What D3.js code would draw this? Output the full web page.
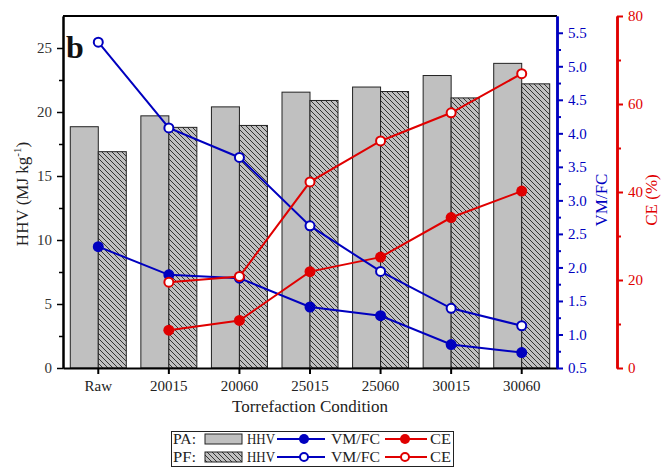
<!DOCTYPE html>
<html>
<head>
<meta charset="utf-8">
<script src="https://cdn.jsdelivr.net/npm/d3@7"></script>
<style>
  body { margin: 0; background: #fff; }
  svg text { font-family: "Liberation Serif", "Times New Roman", serif; }
</style>
</head>
<body>
<div id="chart"></div>
<script>
// categories + series
var conditions = ["Raw", "20015", "20060", "25015", "25060", "30015", "30060"];
var hhvPA = [18.85, 19.7, 20.4, 21.55, 21.95, 22.85, 23.8];
var hhvPF = [16.9, 18.8, 18.95, 20.9, 21.6, 21.1, 22.2];
var vmfcPA = [2.31, 1.89, 1.84, 1.41, 1.28, 0.85, 0.73];
var vmfcPF = [5.36, 4.08, 3.64, 2.62, 1.94, 1.39, 1.13];
// no CE for raw
var cePA = [null, 8.6, 10.8, 21.9, 25.2, 34.2, 40.2];
var cePF = [null, 19.5, 20.8, 42.3, 51.6, 58.0, 66.9];
var hhvTicks = [0, 5, 10, 15, 20, 25];
var vmfcTicks = [0.5, 1.0, 1.5, 2.0, 2.5, 3.0, 3.5, 4.0, 4.5, 5.0, 5.5];
var ceTicks = [0, 20, 40, 60, 80];

var W = 662, H = 467;
var pL = 63, pR = 557, pT = 16, pB = 368;   // plot box
var blue = "#0000bf", red = "#e00000";

var svg = d3.select("#chart").append("svg")
    .attr("width", W).attr("height", H);

var defs = svg.append("defs");
var pat = defs.append("pattern")
    .attr("id", "hatch")
    .attr("patternUnits", "userSpaceOnUse")
    .attr("width", 5).attr("height", 5);
pat.append("rect").attr("width", 5).attr("height", 5).attr("fill", "#c0c0c0");
pat.append("path")
    .attr("d", "M0,0 L5,5 M-1,4 L1,6 M4,-1 L6,1")
    .attr("stroke", "#222").attr("stroke-width", 0.9);

var x = d3.scaleBand().domain(conditions).range([pL, pR]);
var yH = d3.scaleLinear().domain([0, 27.5]).range([pB, pT]);
var yV = d3.scaleLinear().domain([0.5, 5.75]).range([pB, pT]);
var yC = d3.scaleLinear().domain([0, 80]).range([pB, pT]);

var barW = 28;
function cx(d) { return x(d) + x.bandwidth() / 2; }

// bars
svg.append("g").selectAll("rect").data(conditions).enter().append("rect")
    .attr("x", function (d) { return cx(d) - barW; })
    .attr("y", function (d, i) { return yH(hhvPA[i]); })
    .attr("width", barW)
    .attr("height", function (d, i) { return pB - yH(hhvPA[i]); })
    .attr("fill", "#c0c0c0").attr("stroke", "#222").attr("stroke-width", 1);

svg.append("g").selectAll("rect").data(conditions).enter().append("rect")
    .attr("x", function (d) { return cx(d); })
    .attr("y", function (d, i) { return yH(hhvPF[i]); })
    .attr("width", barW)
    .attr("height", function (d, i) { return pB - yH(hhvPF[i]); })
    .attr("fill", "url(#hatch)").attr("stroke", "#222").attr("stroke-width", 1);

// lines + markers
function series(vals, scale, color, filled) {
    var pts = conditions.map(function (c, i) { return [cx(c), vals[i]]; })
        .filter(function (p) { return p[1] !== null; });
    var line = d3.line().x(function (p) { return p[0]; }).y(function (p) { return scale(p[1]); });
    svg.append("path").datum(pts).attr("d", line)
        .attr("fill", "none").attr("stroke", color).attr("stroke-width", 2);
    svg.append("g").selectAll("circle").data(pts).enter().append("circle")
        .attr("cx", function (p) { return p[0]; })
        .attr("cy", function (p) { return scale(p[1]); })
        .attr("r", filled ? 5.5 : 4.5)
        .attr("fill", filled ? color : "#fff")
        .attr("stroke", color).attr("stroke-width", filled ? 0 : 2);
}
series(vmfcPA, yV, blue, true);
series(cePA, yC, red, true);
series(vmfcPF, yV, blue, false);
series(cePF, yC, red, false);

// top frame
svg.append("line").attr("x1", pL).attr("x2", pR).attr("y1", pT).attr("y2", pT)
    .attr("stroke", "#000").attr("stroke-width", 2);

// left axis
var gL = svg.append("g").attr("transform", "translate(" + pL + ",0)")
    .call(d3.axisLeft(yH).tickValues(hhvTicks).tickSize(6).tickPadding(5).tickSizeOuter(0));
gL.append("g").call(d3.axisLeft(yH).tickValues(d3.range(2.5, 27.5, 5)).tickSize(4).tickFormat("").tickSizeOuter(0));
gL.selectAll(".domain").attr("stroke", "#000").attr("stroke-width", 2);
gL.selectAll(".tick line").attr("stroke", "#000").attr("stroke-width", 1.5);
gL.selectAll("text").attr("font-size", 15).attr("fill", "#333");

// bottom axis
var gB = svg.append("g").attr("transform", "translate(0," + pB + ")")
    .call(d3.axisBottom(x).tickSize(6).tickPadding(6).tickSizeOuter(0));
gB.selectAll(".domain").attr("stroke", "#000").attr("stroke-width", 2);
gB.selectAll(".tick line").attr("stroke", "#000").attr("stroke-width", 2);
gB.selectAll("text").attr("font-size", 15).attr("fill", "#222");

// VM/FC axis
var gV = svg.append("g").attr("transform", "translate(" + pR + ",0)")
    .call(d3.axisRight(yV).tickValues(vmfcTicks).tickFormat(d3.format(".1f")).tickSize(6).tickPadding(5).tickSizeOuter(0));
gV.append("g").call(d3.axisRight(yV).tickValues(d3.range(0.75, 5.75, 0.5)).tickSize(4).tickFormat("").tickSizeOuter(0));
gV.selectAll(".domain").attr("stroke", blue).attr("stroke-width", 2.5);
gV.selectAll(".tick line").attr("stroke", blue).attr("stroke-width", 2);
gV.selectAll("text").attr("font-size", 15).attr("fill", blue);

// CE axis
var ceX = 617;
var gC = svg.append("g").attr("transform", "translate(" + ceX + ",0)")
    .call(d3.axisRight(yC).tickValues(ceTicks).tickSize(6).tickPadding(5).tickSizeOuter(0));
gC.append("g").call(d3.axisRight(yC).tickValues(d3.range(10, 80, 20)).tickSize(4).tickFormat("").tickSizeOuter(0));
gC.selectAll(".domain").attr("stroke", red).attr("stroke-width", 2.5);
gC.selectAll(".tick line").attr("stroke", red).attr("stroke-width", 2);
gC.selectAll("text").attr("font-size", 15).attr("fill", red);

// axis titles
var tL = svg.append("text").attr("transform", "translate(28,194) rotate(-90)")
    .attr("text-anchor", "middle").attr("font-size", 17).attr("fill", "#222");
tL.append("tspan").text("HHV (MJ kg");
tL.append("tspan").attr("font-size", 11).attr("dy", -7).text("-1");
tL.append("tspan").attr("dy", 7).text(")");

svg.append("text").attr("transform", "translate(607,200) rotate(-90)")
    .attr("text-anchor", "middle").attr("font-size", 17).attr("fill", blue).text("VM/FC");
svg.append("text").attr("transform", "translate(657,200) rotate(-90)")
    .attr("text-anchor", "middle").attr("font-size", 17).attr("fill", red).text("CE (%)");

svg.append("text").attr("x", (pL + pR) / 2).attr("y", 412)
    .attr("text-anchor", "middle").attr("font-size", 17).attr("fill", "#222")
    .text("Torrefaction Condition");

svg.append("text").attr("x", 66).attr("y", 58).attr("font-size", 32)
    .attr("font-weight", "bold").attr("fill", "#111").text("b");

// legend
var lg = svg.append("g");
lg.append("rect").attr("x", 171.5).attr("y", 431.5).attr("width", 282).attr("height", 35)
    .attr("fill", "#fff").attr("stroke", "#222").attr("stroke-width", 1);
var rows = [
    { name: "PA:", fill: "#c0c0c0", filled: true, y: 439 },
    { name: "PF:", fill: "url(#hatch)", filled: false, y: 457 }
];
function ltext(xp, yp, s, len) {
    lg.append("text").attr("x", xp).attr("y", yp + 5).attr("font-size", 15).attr("fill", "#222")
        .attr("textLength", len).attr("lengthAdjust", "spacingAndGlyphs").text(s);
}
rows.forEach(function (r) {
    ltext(173, r.y, r.name, 23);
    lg.append("rect").attr("x", 205).attr("y", r.y - 5).attr("width", 37).attr("height", 10)
        .attr("fill", r.fill).attr("stroke", "#222");
    ltext(247, r.y, "HHV", 28);
    lg.append("line").attr("x1", 277).attr("x2", 325).attr("y1", r.y).attr("y2", r.y)
        .attr("stroke", blue).attr("stroke-width", 2);
    lg.append("circle").attr("cx", 304).attr("cy", r.y).attr("r", r.filled ? 5 : 4)
        .attr("fill", r.filled ? blue : "#fff").attr("stroke", blue).attr("stroke-width", r.filled ? 0 : 2);
    ltext(331, r.y, "VM/FC", 49);
    lg.append("line").attr("x1", 385).attr("x2", 427).attr("y1", r.y).attr("y2", r.y)
        .attr("stroke", red).attr("stroke-width", 2);
    lg.append("circle").attr("cx", 405).attr("cy", r.y).attr("r", r.filled ? 5 : 4)
        .attr("fill", r.filled ? red : "#fff").attr("stroke", red).attr("stroke-width", r.filled ? 0 : 2);
    ltext(430, r.y, "CE", 21);
});
</script>
</body>
</html>
